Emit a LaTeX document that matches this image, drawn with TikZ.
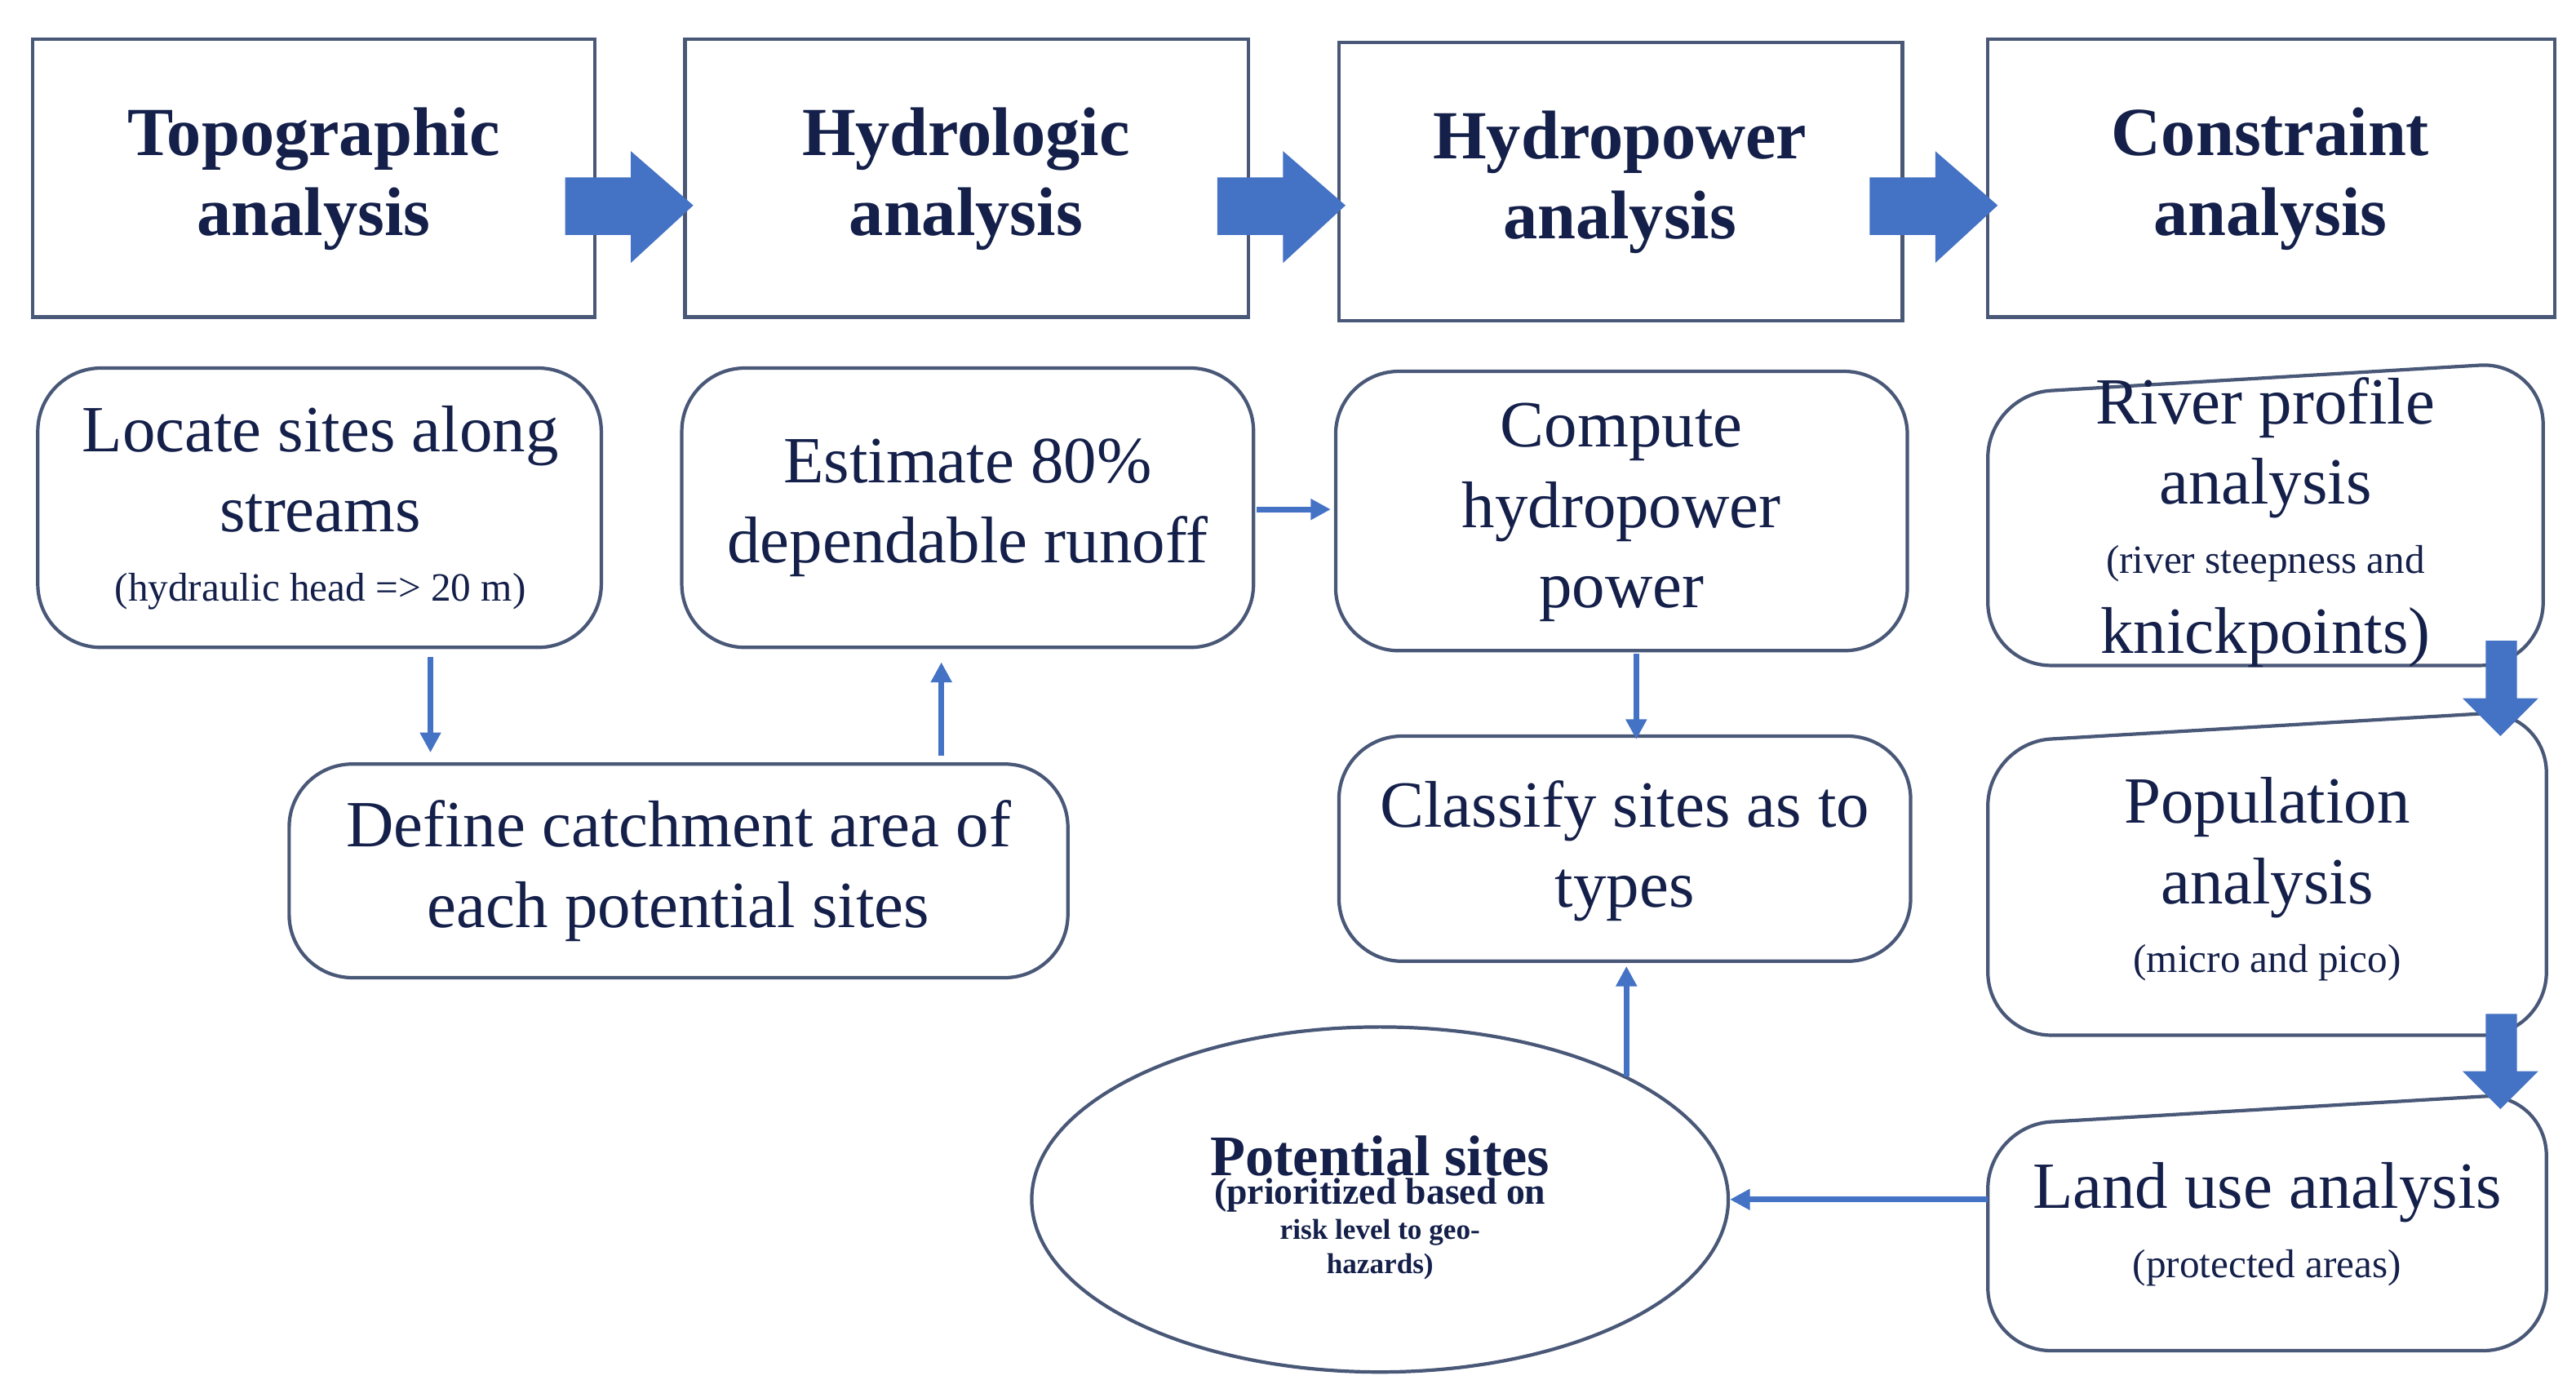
\documentclass[tikz,border=0pt]{standalone}
\usepackage{fontspec}
\setmainfont{Liberation Serif}
\usetikzlibrary{calc,arrows.meta}
\definecolor{txt}{HTML}{14204A}
\definecolor{bord}{HTML}{4A5878}
\definecolor{blu}{HTML}{4472C4}
\newcommand\smtxt{\fontsize{14}{17}\selectfont}
\begin{document}
\begin{tikzpicture}[x=0.02013cm,y=-0.02013cm,
  box/.style={draw=bord,line width=1.2pt},
  rbox/.style={draw=bord,line width=1.2pt,rounded corners=22pt},
  ttl/.style={text=txt,font=\fontsize{24}{28}\selectfont\bfseries,align=center},
  lbl/.style={text=txt,font=\fontsize{23}{28}\selectfont,align=center},
  conn/.style={draw=blu,line width=2pt,-{Triangle[length=7pt,width=7pt]}},
  fat/.style={fill=blu}]
\useasboundingbox (0,0) rectangle (1568,845);
% top boxes
\draw[box] (20,24) rectangle (362,193);
\node[ttl] (t1) at (191,109) {Topographic\\analysis};
\draw[box] (417,24) rectangle (760,193);
\node[ttl] (t2) at (588,109) {Hydrologic\\analysis};
\draw[box] (815,26) rectangle (1158,195);
\node[ttl] (t3) at (986,111) {Hydropower\\analysis};
\draw[box] (1210,24) rectangle (1555,193);
\node[ttl] (t4) at (1382,109) {Constraint\\analysis};
% fat right arrows
\foreach \x in {344,741,1138}{
  \fill[fat] (\x,108) -- (\x+40,108) -- (\x+40,92) -- (\x+78,125) -- (\x+40,160) -- (\x+40,143) -- (\x,143) -- cycle;}
% second row
\draw[rbox] (23,224) rectangle (366,394);
\node[lbl] (locate) at (195,309) {Locate sites along\\streams\\[-4pt]\smtxt (hydraulic head => 20 m)};
\draw[rbox] (415,224) rectangle (763,394);
\node[lbl] (est) at (589,309) {Estimate 80\%\\dependable runoff};
\draw[rbox] (813,226) rectangle (1161,396);
\node[lbl] (comp) at (987,312) {Compute\\hydropower\\power};
\draw[rbox] (176,465) rectangle (650,595);
\node[lbl] (def) at (413,530) {Define catchment area of\\each potential sites};
\draw[rbox] (815,448) rectangle (1163,585);
\node[lbl] (cls) at (989,518) {Classify sites as to\\types};
% manual input shapes
\draw[box,rounded corners=22pt] (1210,405) -- (1210,240) -- (1548,220) -- (1548,405) -- cycle;
\node[lbl] (river) at (1379,318) {River profile\\analysis\\[-4pt]\smtxt (river steepness and\\knickpoints)};
\draw[box,rounded corners=22pt] (1210,630) -- (1210,452) -- (1550,432) -- (1550,630) -- cycle;
\node[lbl] (pop) at (1380,535) {Population\\analysis\\[-4pt]\smtxt (micro and pico)};
\draw[box,rounded corners=22pt] (1210,822) -- (1210,685) -- (1550,665) -- (1550,822) -- cycle;
\node[lbl] (land) at (1380,745) {Land use analysis\\[-4pt]\smtxt (protected areas)};
\coordinate (landW) at (1210,730);
% ellipse
\draw[box] (840,730) ellipse [x radius=212,y radius=105];
\node[text=txt,align=center,font=\bfseries] (pot) at (840,735) {\fontsize{20}{24}\selectfont Potential sites\\[-2pt]\fontsize{13}{18}\selectfont (prioritized based on\\risk level to geo-\\hazards)};
\coordinate (potE) at (1053,730);
% connectors
\draw[conn] (262,400) -- (262,458);
\draw[conn] (573,460) -- (573,403);
\draw[conn] (765,310) -- (810,310);
\draw[conn] (996,398) -- (996,450);
\draw[conn] (990,655) -- (990,588);
\draw[conn] (landW) -- (potE);
% fat down arrows
\foreach \y in {390,617}{
  \fill[fat] (1513,\y) -- (1532,\y) -- (1532,\y+35) -- (1545,\y+35) -- (1522,\y+58) -- (1499,\y+35) -- (1513,\y+35) -- cycle;}
\end{tikzpicture}
\end{document}
